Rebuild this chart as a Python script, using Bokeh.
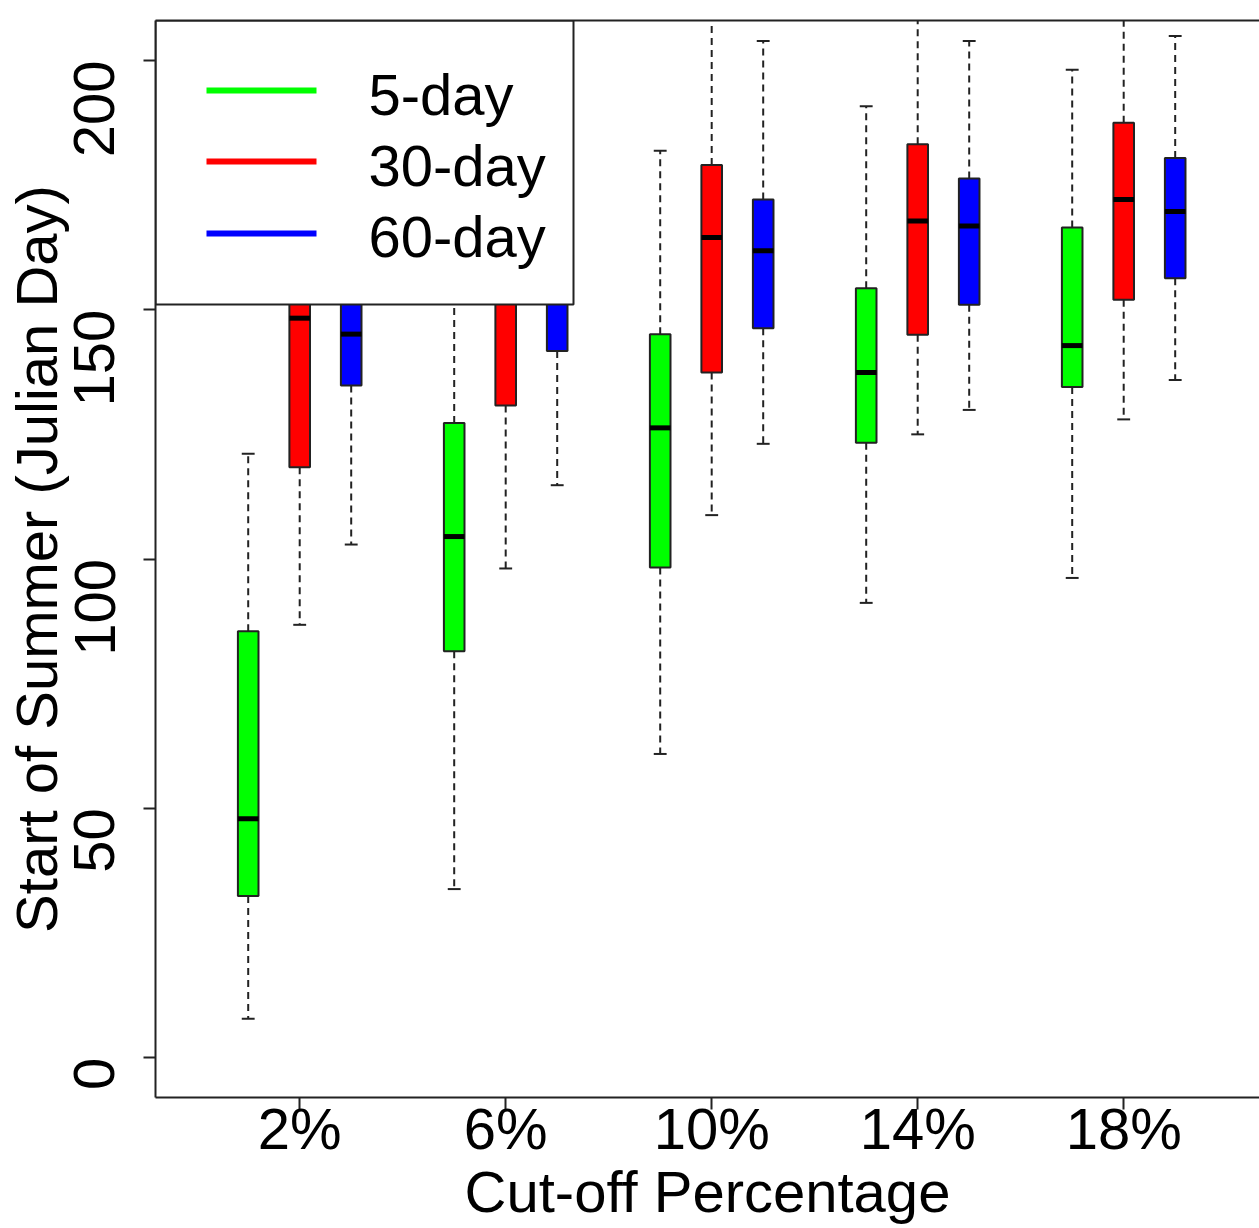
import math

from bokeh.core.properties import value
from bokeh.embed import file_html
from bokeh.models import ColumnDataSource, FixedTicker, LinearAxis, Range1d
from bokeh.plotting import figure
from bokeh.resources import INLINE

# ---- data -------------------------------------------------------------
cutoffs = [2, 6, 10, 14, 18]
tick_labels = ["2%", "6%", "10%", "14%", "18%"]
windows = ["5-day", "30-day", "60-day"]
colors = ["#00ff00", "#ff0000", "#0000ff"]

# five-number summaries (Julian day) for each cut-off, per smoothing window
lower_5 = [7.8, 33.8, 60.9, 91.2, 96.2]
q1_5 = [32.4, 81.5, 98.3, 123.3, 134.5]
med_5 = [47.9, 104.5, 126.3, 137.4, 142.8]
q3_5 = [85.5, 127.3, 145.1, 154.3, 166.5]
upper_5 = [121.1, 176.0, 181.9, 190.8, 198.1]

lower_30 = [86.8, 98.1, 108.8, 125.0, 128.0]
q1_30 = [118.4, 130.8, 137.4, 145.0, 152.0]
med_30 = [148.3, 158.0, 164.5, 167.8, 172.1]
q3_30 = [166.0, 172.0, 179.0, 183.2, 187.5]
upper_30 = [201.0, 214.0, 216.0, 218.0, 220.0]

lower_60 = [102.9, 114.8, 123.1, 129.9, 135.9]
q1_60 = [134.8, 141.7, 146.3, 151.0, 156.3]
med_60 = [145.1, 155.0, 161.8, 166.8, 169.7]
q3_60 = [160.0, 166.0, 172.1, 176.3, 180.4]
upper_60 = [190.0, 198.0, 203.9, 203.9, 204.9]

stats = [
    (lower_5, q1_5, med_5, q3_5, upper_5),
    (lower_30, q1_30, med_30, q3_30, upper_30),
    (lower_60, q1_60, med_60, q3_60, upper_60),
]

# ---- geometry / style ---------------------------------------------------
FONT = "Liberation Sans"
INK = "#222222"
X0, X1 = -0.8, 20.637
Y0, Y1 = -8.0, 208.0
W, H = 1259, 1228
BORDER_L, BORDER_R, BORDER_T, BORDER_B = 155, 0, 20, 131
FRAME_W = W - BORDER_L - BORDER_R
FRAME_H = H - BORDER_T - BORDER_B
BOX_W = 0.40
CAP_W = 0.25
OFFSETS = [-1, 0, 1]  # 5-day left of the cut-off, 30-day on it, 60-day right


def xd(px):
    """canvas x pixel -> data x"""
    return X0 + (px - BORDER_L) / FRAME_W * (X1 - X0)


def yd(py):
    """canvas y pixel -> data y"""
    return Y1 - (py - BORDER_T) / FRAME_H * (Y1 - Y0)


p = figure(
    width=W, height=H,
    x_range=Range1d(X0, X1), y_range=Range1d(Y0, Y1),
    output_backend="svg", toolbar_location=None,
    min_border_left=BORDER_L, min_border_right=BORDER_R,
    min_border_top=BORDER_T, min_border_bottom=BORDER_B,
)
p.outline_line_color = None
p.grid.visible = False
p.background_fill_color = "white"
p.border_fill_color = "white"

# ---- boxes --------------------------------------------------------------
for (lo, q1, med, q3, hi), off, col in zip(stats, OFFSETS, colors):
    xs = [c + off for c in cutoffs]
    src = ColumnDataSource(dict(
        x=xs, lo=lo, q1=q1, med=med, q3=q3, hi=hi,
        left=[x - BOX_W / 2 for x in xs], right=[x + BOX_W / 2 for x in xs],
        cl=[x - CAP_W / 2 for x in xs], cr=[x + CAP_W / 2 for x in xs],
    ))
    # dashed whiskers
    p.segment(x0="x", y0="q3", x1="x", y1="hi", source=src,
              line_color=INK, line_width=2, line_dash="7 5")
    p.segment(x0="x", y0="q1", x1="x", y1="lo", source=src,
              line_color=INK, line_width=2, line_dash="7 5")
    # staples
    p.segment(x0="cl", y0="hi", x1="cr", y1="hi", source=src,
              line_color=INK, line_width=2)
    p.segment(x0="cl", y0="lo", x1="cr", y1="lo", source=src,
              line_color=INK, line_width=2)
    # interquartile box
    p.quad(left="left", right="right", bottom="q1", top="q3", source=src,
           fill_color=col, line_color=INK, line_width=2)
    # median bar
    p.segment(x0="left", y0="med", x1="right", y1="med", source=src,
              line_color="black", line_width=5)

# ---- axes ---------------------------------------------------------------
for ax in (p.xaxis[0], p.yaxis[0]):
    ax.axis_line_color = INK
    ax.axis_line_width = 2
    ax.major_tick_line_color = INK
    ax.major_tick_line_width = 2
    ax.major_tick_out = 12
    ax.major_tick_in = 0
    ax.minor_tick_line_color = None
    ax.major_label_text_font = FONT
    ax.major_label_text_font_size = "58px"
    ax.major_label_text_color = "black"
    ax.axis_label_text_font = FONT
    ax.axis_label_text_font_size = "58px"
    ax.axis_label_text_font_style = "normal"
    ax.axis_label_text_color = "black"

p.yaxis.ticker = FixedTicker(ticks=[0, 50, 100, 150, 200])
p.yaxis.major_label_orientation = math.pi / 2
p.yaxis.major_label_standoff = 49
p.yaxis.axis_label = "Start of Summer (Julian Day)"
p.yaxis.axis_label_standoff = -17

p.xaxis.ticker = FixedTicker(ticks=cutoffs)
p.xaxis.major_label_overrides = {c: t for c, t in zip(cutoffs, tick_labels)}
p.xaxis.major_label_standoff = -14
p.xaxis.axis_label = "Cut-off Percentage"
p.xaxis.axis_label_standoff = -5

top = LinearAxis(
    ticker=FixedTicker(ticks=[]), axis_line_color=INK, axis_line_width=2,
    major_tick_line_color=None, minor_tick_line_color=None,
    major_label_text_font_size="0px",
)
p.add_layout(top, "above")

# ---- legend box (top-left corner of the frame) -------------------------
leg_rows = [yd(90), yd(161), yd(233)]
p.quad(left=[X0], right=[xd(573)], bottom=[yd(304)], top=[Y1],
       fill_color="white", line_color=INK, line_width=2)
p.segment(x0=[xd(206)] * 3, x1=[xd(316)] * 3, y0=leg_rows, y1=leg_rows,
          line_color=colors, line_width=6)
p.text(x=[xd(368)] * 3, y=[yd(94), yd(165), yd(236)], text=windows,
       text_font=value(FONT), text_font_size="58px", text_color="black",
       text_baseline="middle", text_align="left")

open("out.html", "w").write(file_html(p, INLINE))
